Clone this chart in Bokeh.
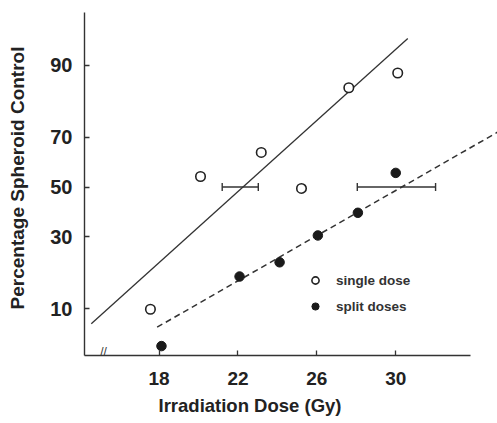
from statistics import NormalDist
from bokeh.plotting import figure
from bokeh.models import (ColumnDataSource, Range1d, FixedTicker, CustomJSTickFormatter,
                          Label, Legend, LegendItem, Whisker, TeeHead, Title)
from bokeh.embed import file_html
from bokeh.resources import INLINE

# ---------------- data ----------------
single_dose = [17.56, 20.10, 23.18, 25.22, 27.62, 30.10]      # Gy
single_pct = [9.9, 54.4, 64.2, 49.4, 85.2, 88.5]              # % spheroid control

split_dose = [18.12, 22.08, 24.11, 26.05, 28.08, 30.00]       # Gy
split_pct = [4.7, 17.3, 21.4, 30.5, 39.3, 55.9]

single_fit_dose = [14.56, 30.61]
single_fit_pct = [7.5, 94.1]
split_fit_dose = [17.90, 35.16]
split_fit_pct = [7.0, 71.8]

ed50_pct = [50.0, 50.0]
ed50_low = [21.2, 28.05]
ed50_high = [23.03, 32.02]

x_ticks = [18, 22, 26, 30]
y_tick_pct = [10, 30, 50, 70, 90]
y_tick_labels = ["10", "30", "50", "70", "90"]

# probit transform
nd = NormalDist()
def probit(values):
    return [nd.inv_cdf(v / 100.0) for v in values]

FONT = "Liberation Sans"
INK = "#222222"

p = figure(width=497, height=423, output_backend="svg", toolbar_location=None,
           x_range=Range1d(14.217, 35.16), y_range=Range1d(-1.7737, 1.9632),
           min_border_left=84, min_border_right=0, min_border_top=0, min_border_bottom=68)
p.outline_line_color = None
p.grid.visible = False
p.background_fill_color = "white"
p.border_fill_color = "white"

# axes
for ax in (p.xaxis[0], p.yaxis[0]):
    ax.axis_line_color = "#333333"
    ax.axis_line_width = 1.4
    ax.major_tick_line_color = "#333333"
    ax.major_tick_line_width = 1.3
    ax.major_tick_in = 5
    ax.major_tick_out = 0
    ax.minor_tick_line_color = None
    ax.major_label_text_font = FONT
    ax.major_label_text_font_style = "bold"
    ax.major_label_text_color = INK

p.xaxis.ticker = FixedTicker(ticks=x_ticks)
p.xaxis.bounds = (14.217, 33.79)
p.xaxis.major_label_text_font_size = "19px"
p.xaxis.major_label_standoff = 16

y_tick_z = probit(y_tick_pct)
p.yaxis.ticker = FixedTicker(ticks=y_tick_z)
p.yaxis.bounds = (-1.7737, 1.8368)
p.yaxis.formatter = CustomJSTickFormatter(args=dict(tvals=y_tick_z, tlabels=y_tick_labels), code="""
    for (let i = 0; i < tvals.length; i++) {
        if (Math.abs(tvals[i] - tick) < 1e-6) { return tlabels[i]; }
    }
    return '';
""")
p.yaxis.major_label_text_font_size = "20px"
p.yaxis.major_label_standoff = 12
p.yaxis.axis_label = "Percentage Spheroid Control"
p.yaxis.axis_label_text_font = FONT
p.yaxis.axis_label_text_font_style = "bold"
p.yaxis.axis_label_text_font_size = "19px"
p.yaxis.axis_label_text_color = INK
p.yaxis.axis_label_standoff = 19

# fitted lines
p.line(single_fit_dose, probit(single_fit_pct), line_color="#333333", line_width=1.3)
p.line(split_fit_dose, probit(split_fit_pct), line_color="#333333", line_width=1.5,
       line_dash="6 4")

# ED50 error bars
err_src = ColumnDataSource(dict(base=probit(ed50_pct), lo=ed50_low, hi=ed50_high))
p.add_layout(Whisker(source=err_src, base="base", lower="lo", upper="hi", dimension="width",
                     line_color="#333333", line_width=1.4,
                     lower_head=TeeHead(size=8, line_color="#333333", line_width=1.4),
                     upper_head=TeeHead(size=8, line_color="#333333", line_width=1.4)))

# data points
r_single = p.scatter(single_dose, probit(single_pct), marker="circle", size=9.5,
                     fill_color="white", line_color=INK, line_width=1.6)
r_split = p.scatter(split_dose, probit(split_pct), marker="circle", size=9.5,
                    fill_color="#1a1a1a", line_color="#1a1a1a", line_width=1.0)

legend = Legend(items=[LegendItem(label="single dose", renderers=[r_single]),
                       LegendItem(label="split doses", renderers=[r_split])],
                location=(222, 39), orientation="vertical",
                glyph_width=18, glyph_height=18, label_height=20, spacing=6,
                label_standoff=12, padding=0, margin=0,
                border_line_color=None, background_fill_alpha=0,
                label_text_font=FONT, label_text_font_style="bold",
                label_text_font_size="13.5px", label_text_color="#333333")
p.add_layout(legend)

# axis break mark
p.add_layout(Label(x=15.18, y=4, x_units="data", y_units="screen", text="//",
                   text_align="center", text_baseline="middle", text_font=FONT,
                   text_font_size="12px", text_color="#333333"))

# x axis title
p.add_layout(Title(text="Irradiation Dose  (Gy)", align="left", offset=74,
                   text_font=FONT, text_font_style="bold", text_font_size="18.5px",
                   text_color=INK, standoff=10), "below")

open("out.html", "w").write(file_html(p, INLINE))
